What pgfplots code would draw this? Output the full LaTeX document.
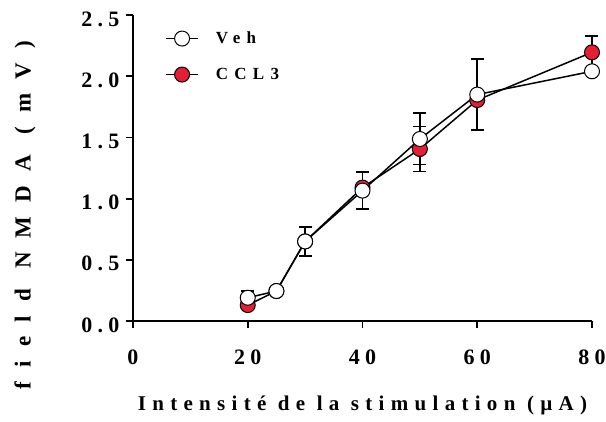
\documentclass[border=0pt]{standalone}
\usepackage{fontspec}
\setmainfont{Liberation Serif}
\newfontfamily\tickf{Liberation Serif Bold}[LetterSpace=24]
\newfontfamily\xlabf{Liberation Serif Bold}[LetterSpace=30]
\newfontfamily\ylabf{Liberation Serif Bold}[LetterSpace=62]
\newfontfamily\legf{Liberation Serif Bold}[LetterSpace=37]
\usepackage{pgfplots}
\usepackage{pgfplotstable}
\pgfplotsset{compat=1.18}
\definecolor{cred}{RGB}{230,30,52}
\pgfplotstableread{
x y e
20 0.19 0.055
25 0.245 0
30 0.65 0.12
40 1.065 0.15
50 1.487 0.21
60 1.85 0.29
80 2.04 0
}\veh
\pgfplotstableread{
x y e
20 0.13 0
25 0.245 0
30 0.65 0
40 1.09 0
50 1.405 0.185
60 1.805 0
80 2.195 0.135
}\ccl
\begin{document}
\begin{tikzpicture}
\path[use as bounding box] (-133pt,-100pt) rectangle (473pt,321pt);
\begin{axis}[
  at={(0,0)}, anchor=origin,
  scale only axis, width=459pt, height=306pt,
  xmin=0, xmax=80, ymin=0, ymax=2.5,
  axis x line*=bottom, axis y line*=left,
  axis line style={line width=1.8pt, -},
  xtick={0,20,40,60,80},
  ytick={0,0.5,1,1.5,2,2.5},
  tick align=outside, major tick length=7pt,
  tick style={line width=1.8pt, black},
  /pgf/number format/assume math mode=true,
  yticklabel style={/pgf/number format/fixed, /pgf/number format/fixed zerofill, /pgf/number format/precision=1, xshift=-3pt, yshift=-4pt},
  every tick label/.append style={font=\tickf\fontsize{22}{22}\selectfont},
  xticklabel style={yshift=-18pt},
  xlabel={Intensité de la stimulation (µA)},
  ylabel={field NMDA (mV)},
  xlabel style={font=\xlabf\fontsize{21}{21}\selectfont, at={(rel axis cs:0.5,0)}, anchor=center, yshift=-84pt},
  ylabel style={font=\ylabf\fontsize{23}{23}\selectfont, at={(rel axis cs:0,0.346)}, anchor=center, yshift=108pt},
  legend style={at={(rel axis cs:0.07,0.952)}, anchor=north west, draw=none, fill=none,
    font=\legf\fontsize{17}{17}\selectfont,
    row sep=19pt, column sep=15pt, inner sep=0pt},
  legend cell align=left,
  reverse legend,
  legend image code/.code={
    \draw[#1, mark repeat=2, mark phase=2] plot coordinates {(0pt,0pt) (16pt,0pt) (32pt,0pt)};
  },
  clip=false,
]
\addplot[black, line width=1.5pt, mark=*, mark size=7.5pt,
  mark options={fill=cred, draw=black, line width=1pt},
  error bars/.cd, y dir=both, y explicit,
  error bar style={line width=1.6pt, black},
  error mark options={rotate=90, mark size=6.5pt, line width=1.6pt}]
  table[x=x, y=y, y error=e] {\ccl};
\addplot[black, line width=1.5pt, mark=*, mark size=7.5pt,
  mark options={fill=white, draw=black, line width=1pt},
  error bars/.cd, y dir=both, y explicit,
  error bar style={line width=1.6pt, black},
  error mark options={rotate=90, mark size=6.5pt, line width=1.6pt}]
  table[x=x, y=y, y error=e] {\veh};
\legend{CCL3,Veh}
\end{axis}
\end{tikzpicture}
\end{document}
